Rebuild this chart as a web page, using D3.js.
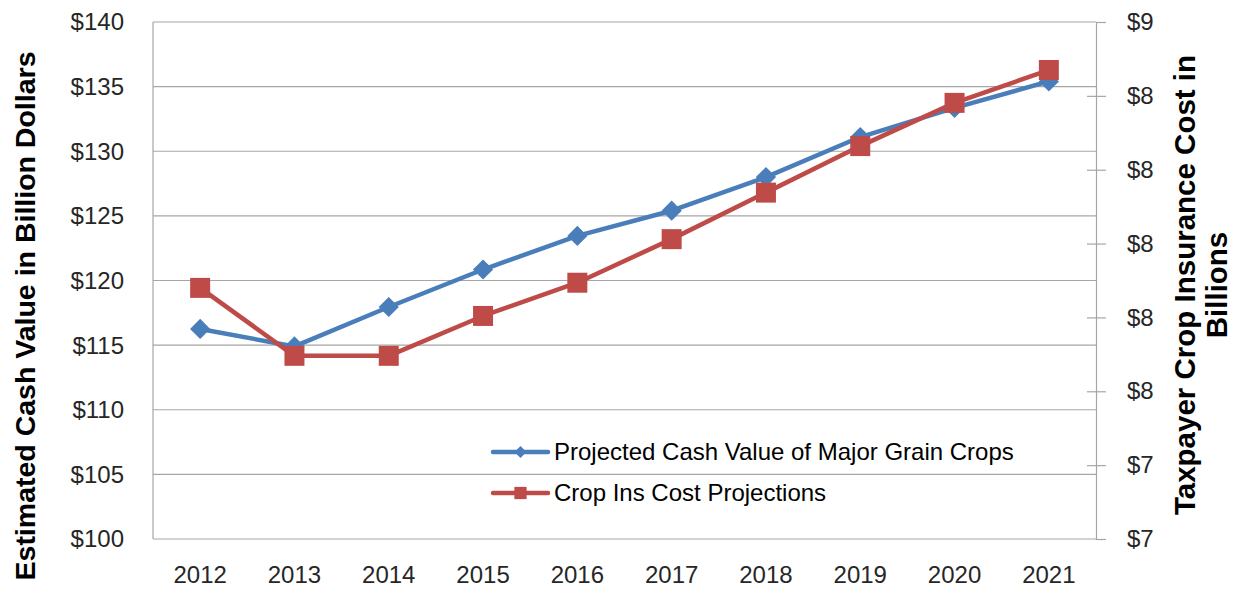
<!DOCTYPE html>
<html>
<head>
<meta charset="utf-8">
<script src="https://cdn.jsdelivr.net/npm/d3@7.9.0/dist/d3.min.js"></script>
<style>
  body { margin: 0; background: #fff; }
  svg { display: block; }
</style>
</head>
<body>
<svg id="chart" width="1233" height="593"></svg>
<script>
// data
const years = ["2012", "2013", "2014", "2015", "2016", "2017", "2018", "2019", "2020", "2021"];
const cashValue = [116.25, 114.9, 117.95, 120.85, 123.45, 125.4, 128.0, 131.1, 133.35, 135.4];
const insCost = [7.78, 7.596, 7.596, 7.704, 7.794, 7.912, 8.038, 8.164, 8.281, 8.37];
const leftTicks = [100, 105, 110, 115, 120, 125, 130, 135, 140];
const rightTicks = [7.1, 7.3, 7.5, 7.7, 7.9, 8.1, 8.3, 8.5];
const seriesNames = ["Projected Cash Value of Major Grain Crops", "Crop Ins Cost Projections"];

const blue = "#4a7ebb", red = "#be4b48", grid = "#a6a6a6";
const font = "Liberation Sans, Arial, sans-serif";
const svg = d3.select("#chart");
const plotL = 153, plotR = 1096, plotT = 22, plotB = 539;

const x = d3.scaleBand().domain(years).range([plotL, plotR]);
const yL = d3.scaleLinear().domain([100, 140]).range([plotB, plotT]);
const yR = d3.scaleLinear().domain([7.1, 8.5]).range([plotB, plotT]);
const cx = (d) => x(d) + x.bandwidth() / 2;

// gridlines
svg.append("g").selectAll("line").data(leftTicks).join("line")
    .attr("x1", plotL).attr("x2", plotR)
    .attr("y1", (d) => yL(d)).attr("y2", (d) => yL(d))
    .attr("stroke", grid).attr("stroke-width", 1.2);

// plot border left side
svg.append("line").attr("x1", plotL).attr("x2", plotL).attr("y1", plotT).attr("y2", plotB)
    .attr("stroke", grid).attr("stroke-width", 1.2);

// left axis labels
svg.append("g").selectAll("text").data(leftTicks).join("text")
    .attr("x", 124).attr("y", (d) => yL(d)).attr("dy", "0.35em")
    .attr("text-anchor", "end")
    .attr("font-family", font).attr("font-size", 24)
    .attr("fill", "#262626")
    .text((d) => "$" + d);

// right axis with crossing ticks
const rAxis = svg.append("g").attr("transform", `translate(${plotR},0)`)
    .call(d3.axisRight(yR).tickValues(rightTicks).tickSize(10).tickSizeOuter(0)
        .tickFormat((d) => "$" + Math.round(d + 1e-9)));
rAxis.select(".domain").attr("stroke", grid).attr("stroke-width", 1.2);
rAxis.selectAll(".tick line").attr("stroke", grid).attr("stroke-width", 1.2)
    .attr("x1", (d, i) => (i === 0 || i === rightTicks.length - 1) ? 0 : -9);
rAxis.selectAll(".tick text").attr("x", 31)
    .attr("font-family", font).attr("font-size", 24)
    .attr("fill", "#262626");

// x labels
svg.append("g").selectAll("text").data(years).join("text")
    .attr("x", (d) => cx(d)).attr("y", 583)
    .attr("text-anchor", "middle")
    .attr("font-family", font).attr("font-size", 24)
    .attr("fill", "#262626")
    .text((d) => d);

// axis titles
svg.append("text")
    .attr("transform", "translate(35,316) rotate(-90)")
    .attr("text-anchor", "middle")
    .attr("font-family", font).attr("font-size", 28.5)
    .attr("font-weight", "bold")
    .text("Estimated Cash Value in Billion Dollars");
const rt = svg.append("text")
    .attr("transform", "translate(1195,285) rotate(-90)")
    .attr("text-anchor", "middle")
    .attr("font-family", font).attr("font-size", 29.5)
    .attr("font-weight", "bold");
rt.append("tspan").attr("x", 0).attr("dy", 0).text("Taxpayer Crop Insurance Cost in");
rt.append("tspan").attr("x", 0).attr("dy", 32).text("Billions");

// lines
const lineL = d3.line().x((d, i) => cx(years[i])).y((d) => yL(d));
const lineR = d3.line().x((d, i) => cx(years[i])).y((d) => yR(d));
const diamond = d3.symbol().type(d3.symbolDiamond2).size(260);
const square = d3.symbol().type(d3.symbolSquare).size(400);

svg.append("path").datum(cashValue).attr("d", lineL)
    .attr("fill", "none").attr("stroke", blue).attr("stroke-width", 4.5).attr("stroke-linejoin", "round");
svg.append("g").selectAll("path").data(cashValue).join("path")
    .attr("d", diamond)
    .attr("transform", (d, i) => `translate(${cx(years[i])},${yL(d)})`)
    .attr("fill", blue);

svg.append("path").datum(insCost).attr("d", lineR)
    .attr("fill", "none").attr("stroke", red).attr("stroke-width", 4.5).attr("stroke-linejoin", "round");
svg.append("g").selectAll("path").data(insCost).join("path")
    .attr("d", square)
    .attr("transform", (d, i) => `translate(${cx(years[i])},${yR(d)})`)
    .attr("fill", red);

// legend
const legend = svg.append("g");
const legRows = [
    { name: seriesNames[0], color: blue, sym: d3.symbol().type(d3.symbolDiamond2).size(90), y: 452 },
    { name: seriesNames[1], color: red, sym: d3.symbol().type(d3.symbolSquare).size(150), y: 493 }
];
legRows.forEach((r) => {
    legend.append("line").attr("x1", 493).attr("x2", 548).attr("y1", r.y).attr("y2", r.y)
        .attr("stroke", r.color).attr("stroke-width", 4.5).attr("stroke-linecap", "round");
    legend.append("path").attr("d", r.sym).attr("transform", `translate(520.5,${r.y})`).attr("fill", r.color);
    legend.append("text").attr("x", 554).attr("y", r.y).attr("dy", "0.35em")
        .attr("font-family", font).attr("font-size", 24)
        .text(r.name);
});
</script>
</body>
</html>
